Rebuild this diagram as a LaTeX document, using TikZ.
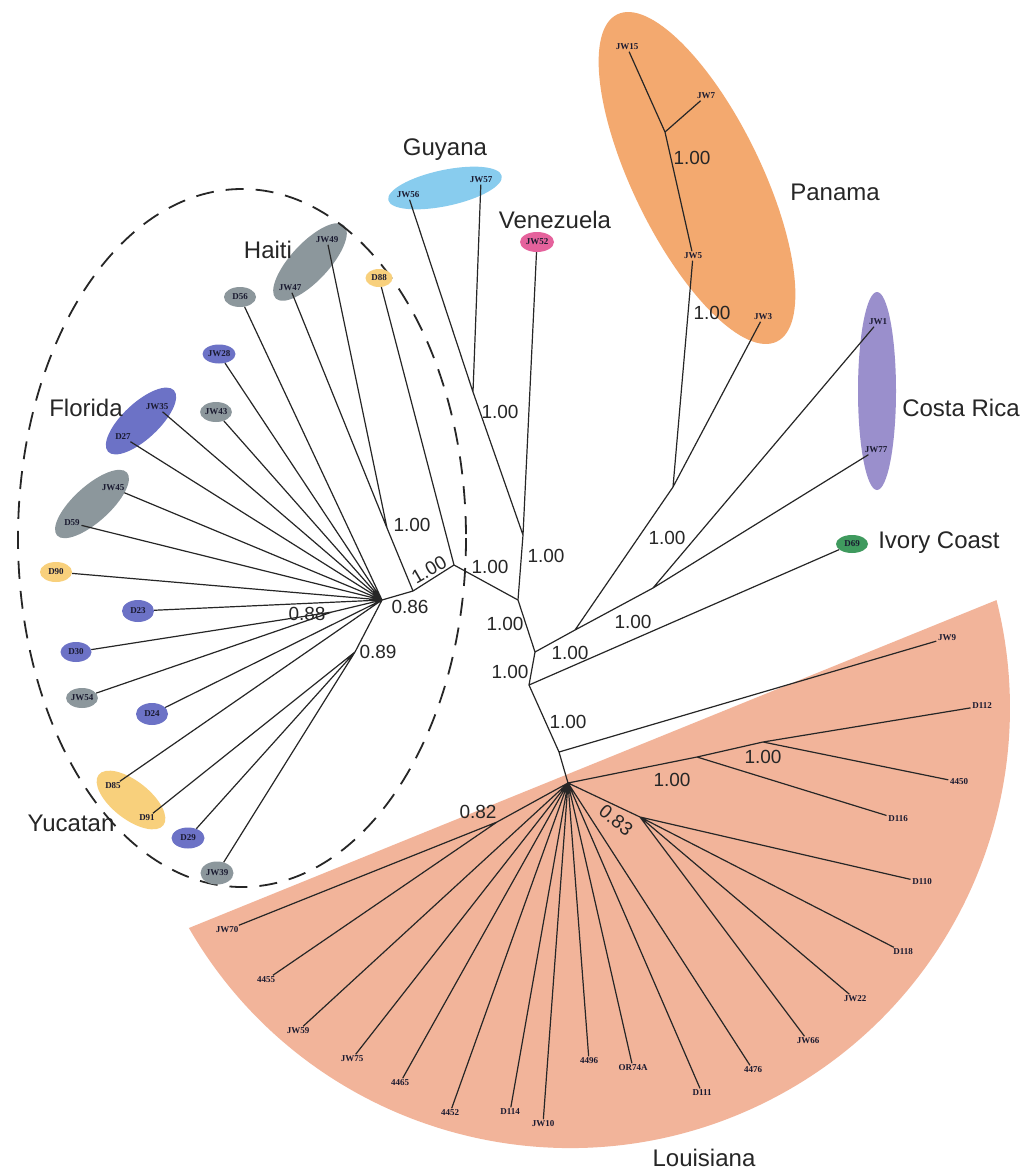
\documentclass[tikz,border=0pt]{standalone}
\usepackage{fontspec}
\setmainfont{Liberation Serif}
\newfontfamily\lsans{Liberation Sans}
\usetikzlibrary{shapes.geometric}
\definecolor{cgray}{HTML}{8C979C}
\definecolor{cblue}{HTML}{6C72C6}
\definecolor{cyel}{HTML}{F8D07C}
\definecolor{cpan}{HTML}{F3A96F}
\definecolor{clou}{HTML}{F2B49A}
\definecolor{ccr}{HTML}{9A8FCC}
\definecolor{cguy}{HTML}{88CCEE}
\definecolor{cven}{HTML}{E5629C}
\definecolor{civ}{HTML}{3F9A5E}
\definecolor{tipc}{HTML}{1A1A30}
\begin{document}
\begin{tikzpicture}[x=1pt,y=-1pt,
  br/.style={line width=1.2pt, black!85, line join=round},
  tip/.style={font=\bfseries\fontsize{9}{11}\selectfont, text=tipc, inner sep=1.5pt},
  et/.style={tip, ellipse, inner sep=0pt, fill=#1},
  region/.style={font=\lsans\fontsize{24}{26}\selectfont, text=black!85, inner sep=0pt},
  sup/.style={font=\lsans\fontsize{19}{21}\selectfont, text=black!85, inner sep=1pt},
  dashring/.style={line width=1.8pt, black!85, dash pattern=on 18pt off 12pt}]
\useasboundingbox (0,0) rectangle (1024,1173);
\fill[white] (0,0) rectangle (1024,1173);
% ---------- coloured backgrounds ----------
\fill[clou] (188.9,928) arc[start angle=150, end angle=-14.2, radius=440] -- cycle;
\fill[cpan, rotate around={-64:(697,178)}] (697,178) ellipse[x radius=182, y radius=64];
\fill[ccr] (877,391) ellipse[x radius=19, y radius=99];
\fill[cguy, rotate around={12:(445,188)}] (445,188) ellipse[x radius=58, y radius=18];
\fill[cgray, rotate around={47:(310,262)}] (310,262) ellipse[x radius=50, y radius=19];
\fill[cblue, rotate around={43:(141,421)}] (141,421) ellipse[x radius=45, y radius=18];
\fill[cgray, rotate around={42:(92,504)}] (92,504) ellipse[x radius=47, y radius=18];
\node[region] (yuc) at (71,823) {Yucatan};
\fill[cyel, rotate around={-38:(131,800)}] (131,800) ellipse[x radius=41, y radius=19];
\draw[dashring] (242,538) ellipse[x radius=224, y radius=349];
% ---------- region labels ----------
\node[region] (guy) at (445,150) {Guyana};
\node[region] (ven) at (555,220) {Venezuela};
\node[region] (pan) at (835,192) {Panama};
\node[region] (hai) at (268,250) {Haiti};
\node[region] (flo) at (86,408) {Florida};
\node[region] (cr) at (961,408) {Costa Rica};
\node[region] (ivc) at (939,543) {Ivory Coast};
\node[region] (lou) at (704,1158) {Louisiana};
% ---------- tips: left cluster ----------
\node[et=cgray, minimum width=32, minimum height=20] (D56) at (240,297) {D56};
\node[et=cblue, minimum width=33, minimum height=19] (JW28) at (219,354) {JW28};
\node[et=cgray, minimum width=30, minimum height=20] (JW43) at (216,412) {JW43};
\node[et=cyel, minimum width=27, minimum height=18] (D88) at (379,278) {D88};
\node[tip] (JW47) at (290,288) {JW47};
\node[tip] (JW49) at (327,240) {JW49};
\node[tip] (JW35) at (157,407) {JW35};
\node[tip] (D27) at (123,437) {D27};
\node[tip] (JW45) at (113,488) {JW45};
\node[tip] (D59) at (72,523) {D59};
\node[et=cyel, minimum width=32, minimum height=20] (D90) at (56,572) {D90};
\node[et=cblue, minimum width=32, minimum height=22] (D23) at (138,611) {D23};
\node[et=cblue, minimum width=31, minimum height=20] (D30) at (76,652) {D30};
\node[et=cgray, minimum width=31, minimum height=20] (JW54) at (82,698) {JW54};
\node[et=cblue, minimum width=32, minimum height=22] (D24) at (152,714) {D24};
\node[tip] (D85) at (113,786) {D85};
\node[tip] (D91) at (147,818) {D91};
\node[et=cblue, minimum width=33, minimum height=21] (D29) at (188,838) {D29};
\node[et=cgray, minimum width=33, minimum height=23] (JW39) at (217,873) {JW39};
% ---------- tips: Guyana, Venezuela, Panama, Costa Rica, Ivory Coast ----------
\node[tip] (JW56) at (408,195) {JW56};
\node[tip] (JW57) at (481,180) {JW57};
\node[et=cven, minimum width=34, minimum height=20] (JW52) at (537,242) {JW52};
\node[tip] (JW15) at (627,47) {JW15};
\node[tip] (JW7) at (706,96) {JW7};
\node[tip] (JW5) at (693,256) {JW5};
\node[tip] (JW3) at (763,317) {JW3};
\node[tip] (JW1) at (878,322) {JW1};
\node[tip] (JW77) at (876,450) {JW77};
\node[et=civ, minimum width=32, minimum height=18] (D69) at (852,544) {D69};
% ---------- tips: Louisiana ----------
\node[tip] (JW9) at (947,638) {JW9};
\node[tip] (D112) at (982,706) {D112};
\node[tip] (L4450) at (959,782) {4450};
\node[tip] (D116) at (898,819) {D116};
\node[tip] (D110) at (922,882) {D110};
\node[tip] (D118) at (903,952) {D118};
\node[tip] (JW22) at (855,999) {JW22};
\node[tip] (JW66) at (808,1041) {JW66};
\node[tip] (L4476) at (753,1070) {4476};
\node[tip] (D111) at (702,1093) {D111};
\node[tip] (OR74A) at (633,1068) {OR74A};
\node[tip] (L4496) at (589,1061) {4496};
\node[tip] (JW10) at (543,1124) {JW10};
\node[tip] (D114) at (510,1112) {D114};
\node[tip] (L4452) at (450,1113) {4452};
\node[tip] (L4465) at (400,1083) {4465};
\node[tip] (JW75) at (352,1059) {JW75};
\node[tip] (JW59) at (298,1031) {JW59};
\node[tip] (L4455) at (266,980) {4455};
\node[tip] (JW70) at (227,930) {JW70};
% ---------- internal nodes ----------
\coordinate (nJW) at (665,132);
\coordinate (nP) at (673,487);
\coordinate (nD) at (575,630);
\coordinate (nCR) at (653,588);
\coordinate (nC) at (535,652);
\coordinate (nE) at (529,685);
\coordinate (nF) at (559,752);
\coordinate (nL) at (568,783);
\coordinate (nB) at (518,600);
\coordinate (nGV) at (523,535);
\coordinate (nGuy) at (473,392);
\coordinate (nA) at (454,565);
\coordinate (n100) at (413,591);
\coordinate (n4749) at (387,528);
\coordinate (n86) at (382,600);
\coordinate (n88) at (332,612);
\coordinate (n89) at (355,652);
\coordinate (n116) at (697,757);
\coordinate (n112) at (763,742);
\coordinate (n82) at (497,822);
\coordinate (n83) at (640,817);
% ---------- branches ----------
\draw[br] (nJW) -- (JW15) (nJW) -- (JW7) (nJW) -- (JW5) (JW5) -- (nP)
  (nP) -- (JW3) (nP) -- (nD) (nD) -- (nCR) (nCR) -- (JW1) (nCR) -- (JW77)
  (nD) -- (nC) (nC) -- (nB) (nB) -- (nGV) (nGV) -- (nGuy) (nGV) -- (JW52)
  (nGuy) -- (JW56) (nGuy) -- (JW57) (nB) -- (nA) (nA) -- (D88) (nA) -- (n100)
  (n100) -- (n4749) (n4749) -- (JW47) (n4749) -- (JW49) (n100) -- (n86);
\draw[br] (n86) -- (D56) (n86) -- (JW28) (n86) -- (JW43) (n86) -- (JW35)
  (n86) -- (D27) (n86) -- (JW45) (n86) -- (D59) (n86) -- (D90) (n86) -- (D23)
  (n86) -- (n88) (n88) -- (D30) (n88) -- (JW54) (n86) -- (D24) (n86) -- (D85)
  (n86) -- (n89) (n89) -- (D91) (n89) -- (D29) (n89) -- (JW39);
\draw[br] (nC) -- (nE) (nE) -- (D69) (nE) -- (nF) (nF) -- (JW9) (nF) -- (nL)
  (nL) -- (n116) (n116) -- (D116) (n116) -- (n112) (n112) -- (D112) (n112) -- (L4450)
  (nL) -- (n82) (n82) -- (JW70) (n82) -- (L4455)
  (nL) -- (JW59) (nL) -- (JW75) (nL) -- (L4465) (nL) -- (L4452) (nL) -- (D114)
  (nL) -- (JW10) (nL) -- (L4496) (nL) -- (OR74A) (nL) -- (D111) (nL) -- (L4476)
  (nL) -- (n83) (n83) -- (JW66) (n83) -- (JW22) (n83) -- (D118) (n83) -- (D110);
% ---------- support values ----------
\node[sup] (s1) at (692,158) {1.00};
\node[sup] (s2) at (712,313) {1.00};
\node[sup] (s3) at (500,412) {1.00};
\node[sup] (s4) at (546,556) {1.00};
\node[sup] (s5) at (412,525) {1.00};
\node[sup, rotate=30] (s6) at (429,570) {1.00};
\node[sup] (s7) at (490,567) {1.00};
\node[sup] (s8) at (410,607) {0.86};
\node[sup] (s9) at (307,614) {0.88};
\node[sup] (s10) at (378,652) {0.89};
\node[sup] (s11) at (505,624) {1.00};
\node[sup] (s12) at (510,672) {1.00};
\node[sup] (s13) at (568,722) {1.00};
\node[sup] (s14) at (570,653) {1.00};
\node[sup] (s15) at (633,622) {1.00};
\node[sup] (s16) at (667,538) {1.00};
\node[sup] (s17) at (763,757) {1.00};
\node[sup] (s18) at (672,780) {1.00};
\node[sup] (s19) at (478,812) {0.82};
\node[sup, rotate=-39] (s20) at (616,820) {0.83};
\end{tikzpicture}
\end{document}
